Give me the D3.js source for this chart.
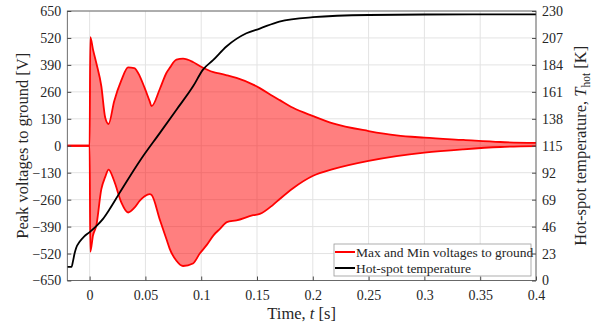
<!DOCTYPE html>
<html>
<head>
<meta charset="utf-8">
<script src="https://cdn.jsdelivr.net/npm/d3@7"></script>
<style>
  body { margin: 0; background: #fff; }
  svg { display: block; font-family: 'Liberation Serif', 'DejaVu Serif', Tinos, 'Times New Roman', serif; }
</style>
</head>
<body>
<div id="chart"></div>
<script>
// envelope of the voltages
const timeV = [-0.02, 0, 0.0006, 0.003, 0.006, 0.0105, 0.014, 0.017, 0.022, 0.0284, 0.0345, 0.040, 0.045,
  0.0493, 0.0538, 0.0555, 0.063, 0.0688, 0.0717, 0.0778, 0.0837, 0.0926, 0.0987, 0.105, 0.111, 0.117,
  0.123, 0.1316, 0.1465, 0.1525, 0.1644, 0.1704, 0.1823, 0.2003, 0.218, 0.25, 0.275, 0.30, 0.335, 0.368, 0.40];
const vMax = [0, 0, 524, 465, 399, 287, 135, 105, 215, 315, 378, 375, 335,
  279, 215, 191, 275, 351, 375, 415, 420, 404, 385, 368, 355, 348,
  340, 327, 295, 278, 239, 220, 183, 143, 108, 71, 50, 39, 28, 18, 14];
const vMin = [0, 0, -512, -433, -385, -209, -150, -115, -170, -273, -322, -300, -265,
  -244, -233, -237, -358, -450, -496, -555, -580, -568, -520, -478, -432, -400,
  -368, -360, -335, -329, -285, -257, -205, -145, -113, -73, -50, -33, -17, -6, -2];

// hot-spot temperature
const timeT = [-0.02, -0.0162, -0.0148, -0.0135, -0.012, -0.009, -0.005, 0, 0.006, 0.012, 0.018, 0.027,
  0.046, 0.063, 0.078, 0.0927, 0.1016, 0.1106, 0.1226, 0.1405, 0.1525, 0.170, 0.200, 0.25, 0.30, 0.40];
const tempK = [11.6, 11.6, 17, 23, 28, 33, 37.5, 41.3, 46.4, 52.6, 61, 75,
  103.5, 126, 146, 165.7, 180, 188, 199.7, 211, 215, 221, 224.7, 226.6, 227, 227.2];

const xTicks = [0, 0.05, 0.1, 0.15, 0.2, 0.25, 0.3, 0.35, 0.4];
const yTicksV = [-650, -520, -390, -260, -130, 0, 130, 260, 390, 520, 650];
const yTicksT = [0, 23, 46, 69, 92, 115, 138, 161, 184, 207, 230];

const serif = "'Liberation Serif', 'DejaVu Serif', Tinos, 'Times New Roman', serif";
const width = 601;
const height = 328;
const margin = { top: 11, right: 65, bottom: 47.5, left: 67.3 };

const svg = d3.select('#chart')
  .append('svg')
  .attr('width', width)
  .attr('height', height)
  .attr('font-family', serif);

const x = d3.scaleLinear()
  .domain([-0.02, 0.4])
  .range([margin.left, width - margin.right]);

const y = d3.scaleLinear()
  .domain([-650, 650])
  .range([height - margin.bottom, margin.top]);

const yT = d3.scaleLinear()
  .domain([0, 230])
  .range([height - margin.bottom, margin.top]);

// grid
const grid = svg.append('g').attr('stroke', '#e3e3e3').attr('stroke-width', 1);
grid.selectAll('.gx')
  .data(xTicks)
  .join('line')
  .attr('x1', (d) => x(d))
  .attr('x2', (d) => x(d))
  .attr('y1', margin.top)
  .attr('y2', height - margin.bottom);
grid.selectAll('.gy')
  .data(yTicksV)
  .join('line')
  .attr('x1', margin.left)
  .attr('x2', width - margin.right)
  .attr('y1', (d) => y(d))
  .attr('y2', (d) => y(d));

// voltage envelope
const vData = timeV.map((t, i) => ({ t, hi: vMax[i], lo: vMin[i] }));

const area = d3.area()
  .x((d) => x(d.t))
  .y0((d) => y(d.lo))
  .y1((d) => y(d.hi))
  .curve(d3.curveMonotoneX);

svg.append('path')
  .datum(vData)
  .attr('fill', 'rgba(255, 0, 0, 0.5)')
  .attr('d', area);

const lineHi = d3.line().x((d) => x(d.t)).y((d) => y(d.hi)).curve(d3.curveMonotoneX);
const lineLo = d3.line().x((d) => x(d.t)).y((d) => y(d.lo)).curve(d3.curveMonotoneX);

svg.append('path').datum(vData)
  .attr('fill', 'none').attr('stroke', '#ff0000').attr('stroke-width', 1.8)
  .attr('d', lineHi);
svg.append('path').datum(vData)
  .attr('fill', 'none').attr('stroke', '#ff0000').attr('stroke-width', 1.8)
  .attr('d', lineLo);

// temperature
const tData = timeT.map((t, i) => ({ t, v: tempK[i] }));
svg.append('path').datum(tData)
  .attr('fill', 'none').attr('stroke', '#000').attr('stroke-width', 1.8)
  .attr('d', d3.line().x((d) => x(d.t)).y((d) => yT(d.v)).curve(d3.curveMonotoneX));

// axes (MATLAB style, ticks inside)
function xAxis(g) {
  g.attr('transform', `translate(0,${height - margin.bottom})`)
    .call(d3.axisBottom(x).tickValues(xTicks).tickSize(-4).tickPadding(10).tickFormat(d3.format('~g')));
}
function yAxis(g) {
  g.attr('transform', `translate(${margin.left},0)`)
    .call(d3.axisLeft(y).tickValues(yTicksV).tickSize(-4).tickPadding(6));
}
function yAxisRight(g) {
  g.attr('transform', `translate(${width - margin.right},0)`)
    .call(d3.axisRight(yT).tickValues(yTicksT).tickSize(-4).tickPadding(6));
}

[xAxis, yAxis, yAxisRight].forEach((fn) => {
  const g = svg.append('g').call(fn);
  g.attr('font-family', serif).attr('font-size', 14);
  g.select('.domain').remove();
  g.selectAll('line').attr('stroke', '#4a4a4a');
  g.selectAll('text').attr('fill', '#262626');
});

// box
svg.append('rect')
  .attr('x', margin.left)
  .attr('y', margin.top)
  .attr('width', width - margin.right - margin.left)
  .attr('height', height - margin.bottom - margin.top)
  .attr('fill', 'none')
  .attr('stroke', '#4a4a4a')
  .attr('stroke-width', 0.8);

// axis labels
svg.append('text')
  .attr('transform', `translate(28,${(margin.top + height - margin.bottom) / 2}) rotate(-90)`)
  .attr('text-anchor', 'middle')
  .attr('font-size', '16.5px')
  .attr('fill', '#262626')
  .text('Peak voltages to ground [V]');

const rl = svg.append('text')
  .attr('transform', `translate(586,${(margin.top + height - margin.bottom) / 2}) rotate(-90)`)
  .attr('text-anchor', 'middle')
  .attr('font-size', '16.5px')
  .attr('fill', '#262626');
rl.append('tspan').text('Hot-spot temperature, ');
rl.append('tspan').attr('font-style', 'italic').text('T');
rl.append('tspan').attr('font-size', '11.5px').attr('dy', 4).text('hot');
rl.append('tspan').attr('dy', -4).text(' [K]');

const xl = svg.append('text')
  .attr('x', (margin.left + width - margin.right) / 2)
  .attr('y', 319)
  .attr('text-anchor', 'middle')
  .attr('font-size', '16.5px')
  .attr('fill', '#262626');
xl.append('tspan').text('Time, ');
xl.append('tspan').attr('font-style', 'italic').text('t');
xl.append('tspan').text(' [s]');

// legend
const legendItems = [
  { label: 'Max and Min voltages to ground', color: '#ff0000' },
  { label: 'Hot-spot temperature', color: '#000' }
];
const legend = svg.append('g').attr('transform', 'translate(334,244)');
legend.append('rect')
  .attr('width', 197)
  .attr('height', 32)
  .attr('fill', '#fff')
  .attr('stroke', '#999')
  .attr('stroke-width', 0.8);
const item = legend.selectAll('.item')
  .data(legendItems)
  .join('g')
  .attr('transform', (d, i) => `translate(0,${8 + i * 16})`);
item.append('line')
  .attr('x1', 1).attr('x2', 21)
  .attr('stroke', (d) => d.color)
  .attr('stroke-width', 2);
item.append('text')
  .attr('x', 22)
  .attr('y', 4.5)
  .attr('font-size', '13.5px')
  .attr('fill', '#262626')
  .text((d) => d.label);
</script>
</body>
</html>
